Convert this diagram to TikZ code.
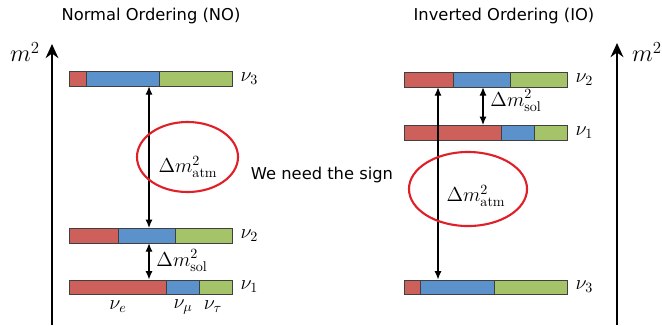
\documentclass[tikz,border=0pt]{standalone}
\usepackage{amsmath}
\usepackage{fontspec}
\newfontfamily\verdfont{DejaVu Sans}
\usepackage{xcolor}
\usepackage{tikz}
\usetikzlibrary{shapes.geometric, arrows.meta, positioning, calc}

\definecolor{nured}{RGB}{205,96,90}
\definecolor{numublue}{RGB}{91,146,204}
\definecolor{nutaugreen}{RGB}{165,196,106}
\definecolor{ringred}{RGB}{224,32,40}

\begin{document}
\begin{tikzpicture}[x=0.025cm, y=-0.025cm,
  seg/.style={draw=black!75, line width=0.5pt},
  bar/.style={draw=black!75, line width=0.5pt, minimum width=4.075cm, minimum height=0.3625cm, inner sep=0pt, anchor=north west},
  lvl/.style={font=\Large, anchor=west, xshift=2pt},
  flav/.style={font=\Large},
  gap/.style={{Latex[length=6pt,width=5pt]}-{Latex[length=6pt,width=5pt]}, line width=0.8pt},
  axis/.style={-{Stealth[length=10pt,width=9pt]}, line width=1.8pt},
  ring/.style={draw=ringred, line width=1.5pt, ellipse, inner sep=0pt},
  title/.style={font=\verdfont\fontsize{11.6}{14}\selectfont}]
\useasboundingbox (0,0) rectangle (662,325);

% Titles
\node[title] (tNO) at (151,16) {Normal Ordering (NO)};
\node[title] (tIO) at (504,16) {Inverted Ordering (IO)};
\node[title] (sign) at (322,175) {We need the sign};

% Mass axes
\coordinate (axNObot) at (52,325);
\coordinate (axNOtop) at (52,44);
\coordinate (axIObot) at (617,325);
\coordinate (axIOtop) at (617,43);
\draw[axis] (axNObot) -- (axNOtop);
\draw[axis] (axIObot) -- (axIOtop);
\node[font=\LARGE] (mNO) at (25,52) {$m^2$};
\node[font=\LARGE] (mIO) at (647,52) {$m^2$};

% Mass levels: flavour content e / mu / tau
\foreach \name/\xl/\yt/\re/\be/\lab in {NO3/69/71/86/159/3, NO2/69/228/118/175/2, NO1/69/279.5/166/199/1,
    IO2/404/72/453/510/2, IO1/404/125/501/534/1, IO3/404/279.5/420/494/3} {
   \fill[nured] (\xl,\yt) rectangle (\re,{\yt+14.5});
   \fill[numublue] (\re,\yt) rectangle (\be,{\yt+14.5});
   \fill[nutaugreen] (\be,\yt) rectangle ({\xl+163},{\yt+14.5});
   \draw[seg] (\re,\yt) -- (\re,{\yt+14.5}) (\be,\yt) -- (\be,{\yt+14.5});
   \node[bar] (\name) at (\xl,\yt) {};
   \node[lvl] (l\name) at (\name.east) {$\nu_{\lab}$};
}

% Flavour labels
\node[flav] (fe) at (118,307) {$\nu_e$};
\node[flav] (fmu) at (183,307) {$\nu_\mu$};
\node[flav] (ftau) at (213,307) {$\nu_\tau$};

% Splittings
\coordinate (atmNO) at (149,0);
\coordinate (atmIO) at (438,0);
\coordinate (solIO) at (483,0);
\draw[gap] (NO3.south -| atmNO) -- (NO2.north -| atmNO);
\draw[gap] (NO2.south -| atmNO) -- (NO1.north -| atmNO);
\draw[gap] (IO2.south -| atmIO) -- (IO3.north -| atmIO);
\draw[gap] (IO2.south -| solIO) -- (IO1.north -| solIO);

\node[font=\Large] (solNO) at (182,261) {$\Delta m^2_{\mathrm{sol}}$};
\node[font=\Large] (solIOlab) at (516,101) {$\Delta m^2_{\mathrm{sol}}$};
\node[font=\Large] (atmNOlab) at (188,167) {$\Delta m^2_{\mathrm{atm}}$};
\node[font=\Large] (atmIOlab) at (476,196) {$\Delta m^2_{\mathrm{atm}}$};

% Circled atmospheric splittings
\node[ring, minimum width=2.525cm, minimum height=1.75cm] (ringNO) at (187.5,157) {};
\node[ring, minimum width=2.95cm, minimum height=1.85cm] (ringIO) at (468,189) {};
\end{tikzpicture}
\end{document}
